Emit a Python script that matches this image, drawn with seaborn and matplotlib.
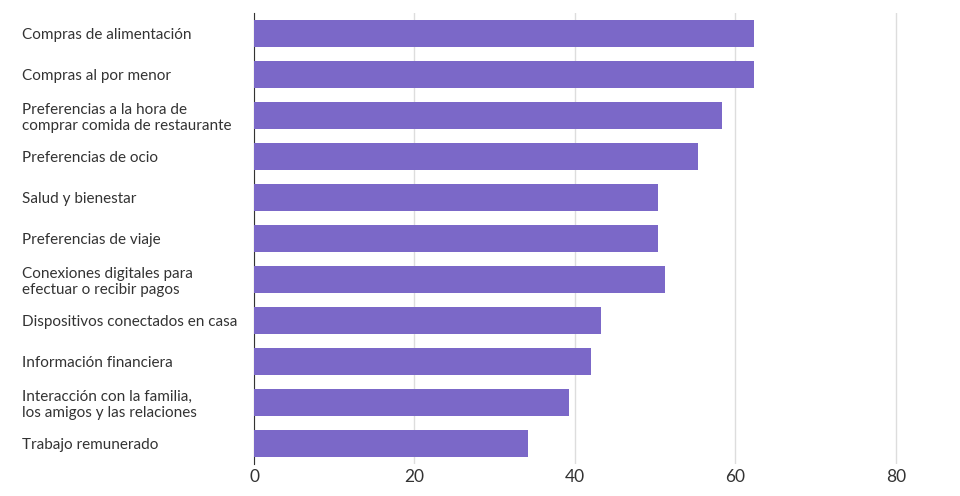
import matplotlib
matplotlib.use("Agg")
import matplotlib.pyplot as plt
import seaborn as sns
import pandas as pd

categories = ["Compras de alimentación", "Compras al por menor",
              "Preferencias a la hora de\ncomprar comida de restaurante",
              "Preferencias de ocio", "Salud y bienestar", "Preferencias de viaje",
              "Conexiones digitales para\nefectuar o recibir pagos",
              "Dispositivos conectados en casa", "Información financiera",
              "Interacción con la familia,\nlos amigos y las relaciones",
              "Trabajo remunerado"]
values = [62.3, 62.3, 58.3, 55.3, 50.3, 50.3, 51.2, 43.2, 42.0, 39.3, 34.2]
xticks = [0, 20, 40, 60, 80]

plt.rcParams["font.family"] = "Lato"
df = pd.DataFrame({"cat": categories, "val": values})
fig = plt.figure(figsize=(9.6, 4.96), dpi=100)
ax = fig.add_axes([254/960, 1-464/496, 1-254/960, 451/496])
sns.barplot(data=df, x="val", y="cat", color="#7b68c8", saturation=1, width=0.66, ax=ax, zorder=3)
ax.set_xlim(0, 88)
ax.set_xticks(xticks)
ax.set_xticklabels([str(t) for t in xticks], fontsize=12.5, color="#333333")
ax.grid(axis="x", color="#dddddd", linewidth=1, zorder=0)
ax.set_xlabel(""); ax.set_ylabel("")
for s in ["top", "right", "bottom"]:
    ax.spines[s].set_visible(False)
ax.spines["left"].set_color("#333333")
ax.tick_params(axis="both", length=0)
ax.tick_params(axis="y", pad=232 * 72 / 100)
for lab in ax.get_yticklabels():
    lab.set_ha("left"); lab.set_fontsize(11); lab.set_color("#333333")
fig.savefig("out.png", dpi=100)
